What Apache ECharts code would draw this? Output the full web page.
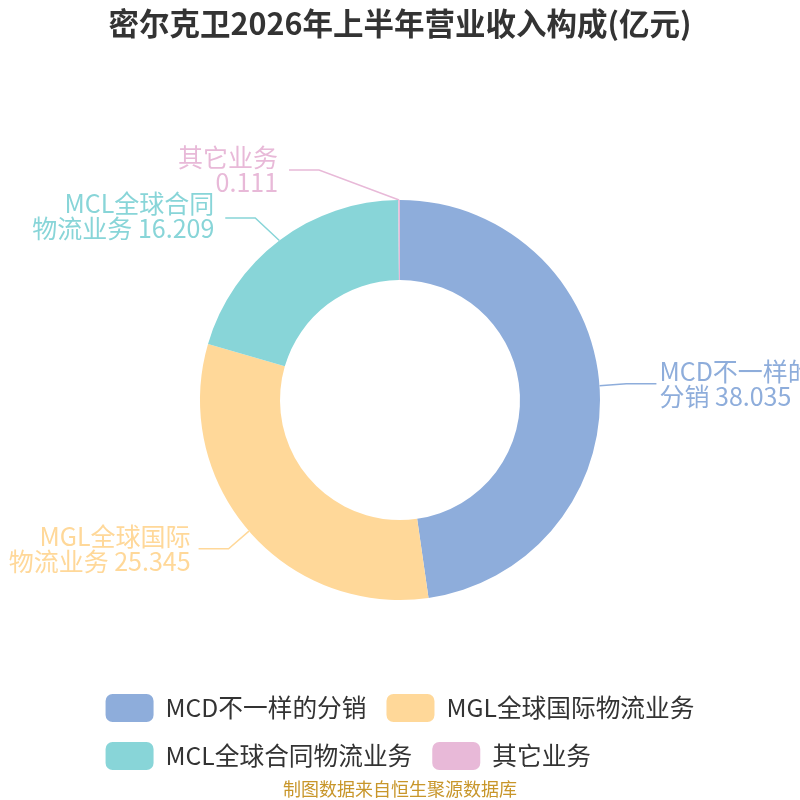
<!DOCTYPE html>
<html lang="zh">
<head>
    <meta charset="UTF-8">
    <title>密尔克卫营业收入构成</title>
    <script src="https://cdn.jsdelivr.net/npm/echarts@6/dist/echarts.min.js"></script>
    <style>
        html, body { margin: 0; padding: 0; background: #fff; }
    </style>
</head>
<body>
<div id="main" style="width: 800px;height:800px;"></div>

<script type="text/javascript">

    var titleText = '密尔克卫2026年上半年营业收入构成(亿元)';
    var sourceText = '制图数据来自恒生聚源数据库';
    var names = ['MCD不一样的分销', 'MGL全球国际物流业务', 'MCL全球合同物流业务', '其它业务'];
    var values = [38.035, 25.345, 16.209, 0.111];
    var colors = ['#8eaddb', '#ffd899', '#88d5d8', '#e8b9d8'];

    var fontCJK = '"Noto Sans CJK SC", "Noto Sans", sans-serif';

    // 标签避让微调: [线dx, 线dy, 文字dx, 文字dy]
    var labelShift = {
        0: [0, 0, -5, 0],
        2: [-8, -7, -11, -9],
        3: [-80, -3, -83, -3]
    };

    var pieData = [];
    for (var i = 0; i < names.length; i++) {
        pieData.push({ name: names[i], value: values[i] });
    }

    // 标签: 名称前7个字一行, 其余和数值一行
    function labelText(p) {
        var n = p.name;
        if (n.length > 7) {
            return n.slice(0, 7) + '\n' + n.slice(7) + ' ' + p.value;
        }
        return n + '\n' + p.value;
    }

    var myChart = echarts.init(document.getElementById('main'));
    myChart.setOption({
        color: colors,
        textStyle: { fontFamily: fontCJK },
        title: {
            text: titleText,
            left: 'center',
            top: 3,
            textStyle: {
                fontFamily: fontCJK,
                fontSize: 30.5,
                fontWeight: 'bold',
                color: '#333'
            }
        },
        legend: {
            data: names,
            left: 'center',
            top: 689,
            width: 640,
            itemWidth: 48,
            itemHeight: 28,
            itemGap: 20,
            textStyle: {
                fontFamily: fontCJK,
                fontSize: 24.7,
                color: '#333',
                padding: [0, 0, 0, 7]
            }
        },
        graphic: [{
            type: 'text',
            left: 'center',
            top: 780,
            style: {
                text: sourceText,
                fontFamily: fontCJK,
                fontSize: 18,
                fill: '#c8962a'
            }
        }],
        series: [{
            type: 'pie',
            center: [400, 400],
            radius: [120, 200],
            startAngle: 90,
            data: pieData,
            label: {
                color: 'inherit',
                fontFamily: fontCJK,
                fontSize: 25,
                lineHeight: 25,
                overflow: 'none',
                distanceToLabelLine: 8,
                formatter: labelText
            },
            labelLine: {
                length: 27,
                length2: 30,
                lineStyle: { width: 1.5 }
            },
            labelLayout: function (p) {
                var s = labelShift[p.dataIndex];
                if (!s || !p.labelLinePoints) {
                    return;
                }
                var pts = p.labelLinePoints;
                return {
                    dx: s[2],
                    dy: s[3],
                    labelLinePoints: [
                        pts[0],
                        [pts[1][0] + s[0], pts[1][1] + s[1]],
                        [pts[2][0] + s[0], pts[2][1] + s[1]]
                    ]
                };
            }
        }]
    });

</script>
</body>
</html>
